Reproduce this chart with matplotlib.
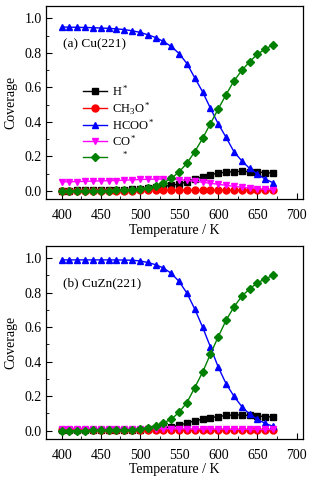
"""Surface coverages vs temperature on Cu(221) and CuZn(221)."""
from __future__ import annotations

import matplotlib

matplotlib.use("Agg")
import matplotlib.pyplot as plt
from matplotlib.ticker import MultipleLocator

plt.rcParams.update({
    "font.family": "serif",
    "font.serif": ["Liberation Serif", "DejaVu Serif"],
    "font.size": 9.5,
    "xtick.labelsize": 10,
    "ytick.labelsize": 10,
    "mathtext.fontset": "custom",
    "mathtext.rm": "Liberation Serif",
    "mathtext.it": "Liberation Serif:italic",
    "axes.linewidth": 0.9,
})

TEMP = [400, 410, 420, 430, 440, 450, 460, 470, 480, 490, 500, 510, 520, 530,
        540, 550, 560, 570, 580, 590, 600, 610, 620, 630, 640, 650, 660, 670]

# (a) Cu(221)
A_H = [0.002, 0.002, 0.003, 0.003, 0.004, 0.004, 0.005, 0.006, 0.007, 0.009,
       0.012, 0.016, 0.021, 0.026, 0.032, 0.040, 0.052, 0.068, 0.082, 0.094,
       0.103, 0.108, 0.112, 0.113, 0.112, 0.109, 0.106, 0.103]
A_CH3O = [0.001, 0.001, 0.001, 0.001, 0.001, 0.002, 0.002, 0.002, 0.002, 0.002,
          0.003, 0.003, 0.003, 0.003, 0.003, 0.003, 0.003, 0.003, 0.003, 0.003,
          0.003, 0.003, 0.003, 0.003, 0.003, 0.003, 0.003, 0.003]
A_HCOO = [0.950, 0.949, 0.948, 0.947, 0.946, 0.944, 0.942, 0.939, 0.935, 0.928,
          0.919, 0.905, 0.889, 0.866, 0.837, 0.796, 0.738, 0.655, 0.574, 0.479,
          0.388, 0.310, 0.227, 0.174, 0.130, 0.097, 0.068, 0.047]
A_CO = [0.052, 0.053, 0.054, 0.055, 0.057, 0.058, 0.059, 0.060, 0.062, 0.064,
        0.066, 0.067, 0.068, 0.068, 0.067, 0.065, 0.061, 0.056, 0.050, 0.044,
        0.038, 0.032, 0.026, 0.021, 0.016, 0.012, 0.009, 0.007]
A_VAC = [0.000, 0.000, 0.000, 0.001, 0.001, 0.002, 0.002, 0.003, 0.004, 0.007,
         0.011, 0.018, 0.030, 0.047, 0.072, 0.110, 0.160, 0.227, 0.304, 0.390,
         0.475, 0.558, 0.637, 0.698, 0.748, 0.793, 0.822, 0.847]

# (b) CuZn(221)
B_H = [0.001, 0.001, 0.001, 0.001, 0.002, 0.002, 0.002, 0.003, 0.003, 0.004,
       0.005, 0.008, 0.012, 0.016, 0.022, 0.031, 0.045, 0.057, 0.066, 0.075,
       0.082, 0.088, 0.091, 0.091, 0.088, 0.085, 0.082, 0.079]
B_CH3O = [0.002, 0.002, 0.002, 0.002, 0.002, 0.002, 0.002, 0.003, 0.003, 0.003,
          0.003, 0.003, 0.003, 0.003, 0.003, 0.003, 0.003, 0.003, 0.003, 0.003,
          0.003, 0.003, 0.003, 0.003, 0.003, 0.003, 0.003, 0.003]
B_HCOO = [0.990, 0.990, 0.990, 0.990, 0.990, 0.990, 0.990, 0.990, 0.989, 0.988,
          0.984, 0.975, 0.962, 0.943, 0.912, 0.865, 0.797, 0.705, 0.600, 0.485,
          0.368, 0.272, 0.200, 0.140, 0.095, 0.065, 0.042, 0.025]
B_CO = [0.012, 0.012, 0.012, 0.012, 0.012, 0.012, 0.012, 0.012, 0.012, 0.012,
        0.012, 0.012, 0.012, 0.011, 0.011, 0.011, 0.010, 0.010, 0.010, 0.009,
        0.009, 0.009, 0.008, 0.008, 0.008, 0.007, 0.007, 0.007]
B_VAC = [0.000, 0.000, 0.000, 0.000, 0.001, 0.001, 0.001, 0.002, 0.003, 0.005,
         0.010, 0.017, 0.029, 0.045, 0.066, 0.107, 0.163, 0.250, 0.339, 0.444,
         0.545, 0.640, 0.717, 0.779, 0.822, 0.857, 0.880, 0.900]

LABELS = [r"H$^*$", r"CH$_3$O$^*$", r"HCOO$^*$", r"CO$^*$", r"   $^*$"]
STYLES = [("k", "s"), ("#FF0000", "o"), ("#0000FF", "^"),
          ("#FF00FF", "v"), ("#008000", "D")]


def draw_panel(ax, series, title, legend=False):
    for ys, lab, (col, mk) in zip(series, LABELS, STYLES):
        ms = 4.2 if mk == "D" else 5
        ax.plot(TEMP, ys, color=col, marker=mk, ms=ms, lw=1.0, label=lab)
    ax.set_xlim(380, 708)
    ax.set_ylim(-0.05, 1.07)
    ax.xaxis.set_major_locator(MultipleLocator(50))
    ax.xaxis.set_minor_locator(MultipleLocator(25))
    ax.yaxis.set_major_locator(MultipleLocator(0.2))
    ax.yaxis.set_minor_locator(MultipleLocator(0.1))
    ax.yaxis.set_major_formatter(plt.FormatStrFormatter("%.1f"))
    ax.tick_params(which="both", direction="in", top=False, right=False)
    ax.tick_params(which="major", length=4)
    ax.tick_params(which="minor", length=2.5)
    ax.tick_params(axis="x", which="major", pad=7)
    ax.tick_params(axis="y", which="major", pad=3)
    ax.set_xlabel("Temperature / K", labelpad=1, fontsize=10)
    ax.set_ylabel("Coverage", labelpad=5, fontsize=10)
    ax.text(0.065, 0.79, title, transform=ax.transAxes, fontsize=9.5)
    if legend:
        ax.legend(loc="upper left", bbox_to_anchor=(0.12, 0.63), frameon=False,
                  handlelength=1.9, handletextpad=0.4, labelspacing=0.12,
                  borderpad=0, fontsize=9)


def main() -> None:
    fig = plt.figure(figsize=(3.26, 4.83), dpi=100)
    ax1 = fig.add_axes([0.141, 0.587, 0.788, 0.400])
    ax2 = fig.add_axes([0.141, 0.0905, 0.788, 0.400])
    draw_panel(ax1, [A_H, A_CH3O, A_HCOO, A_CO, A_VAC], "(a) Cu(221)", legend=True)
    draw_panel(ax2, [B_H, B_CH3O, B_HCOO, B_CO, B_VAC], "(b) CuZn(221)")
    fig.savefig("out.png", dpi=100)
    plt.close(fig)


if __name__ == "__main__":
    main()
